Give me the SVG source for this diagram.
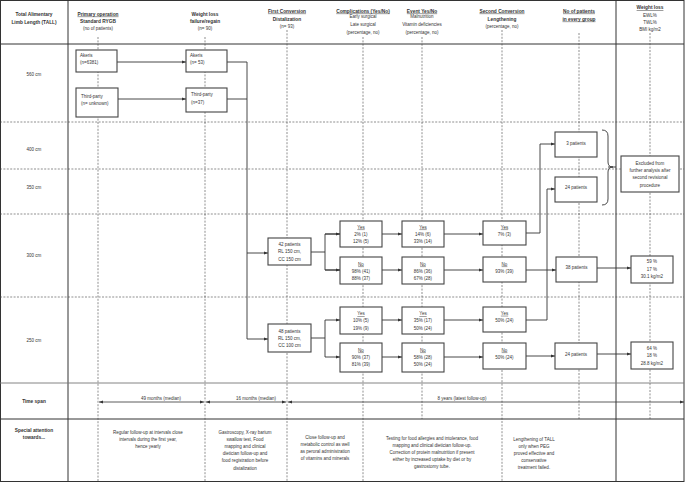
<svg xmlns="http://www.w3.org/2000/svg" width="685" height="482" viewBox="0 0 685 482">
<style>
text{font-family:"Liberation Sans",Arial,sans-serif;font-size:4.5px;fill:#333;text-anchor:middle}
.b{font-weight:bold;font-size:4.8px}
.u{text-decoration:underline}
.l{text-anchor:start}
.box{fill:#fff;stroke:#444;stroke-width:1.1}
.dash{stroke:#444;stroke-width:0.6;stroke-dasharray:2,1.4;fill:none}
.solid{stroke:#333;stroke-width:1;fill:none}
.conn{stroke:#333;stroke-width:0.9;fill:none}
.arr{marker-end:url(#ah)}
.ts{stroke:#333;stroke-width:0.8;fill:none;marker-end:url(#ah);marker-start:url(#ah)}
</style>
<defs>
<marker id="ah" markerWidth="4" markerHeight="4" refX="4" refY="2" orient="auto-start-reverse" markerUnits="userSpaceOnUse">
<path d="M0,0.6 L4,2 L0,3.4z" fill="#333"/>
</marker>
</defs>
<rect x="0" y="0" width="685" height="482" fill="#fff"/>
<g id="grid">
<rect x="0.5" y="0.5" width="683.5" height="481" class="solid"/>
<line x1="0" y1="44" x2="684" y2="44" class="solid"/>
<line x1="68" y1="0" x2="68" y2="481" class="solid"/>
<line x1="616" y1="0" x2="616" y2="481" class="solid" stroke-width="1.3"/>
<line x1="0" y1="122" x2="684" y2="122" class="dash"/>
<line x1="0" y1="169" x2="684" y2="169" class="dash"/>
<line x1="0" y1="214" x2="684" y2="214" class="dash"/>
<line x1="0" y1="297" x2="684" y2="297" class="dash"/>
<line x1="0" y1="383" x2="684" y2="383" stroke="#777" stroke-width="0.9"/>
<line x1="0" y1="419" x2="684" y2="419" class="solid"/>
<line x1="98" y1="37" x2="98" y2="481" class="dash"/>
<line x1="205" y1="37" x2="205" y2="481" class="dash"/>
<line x1="287" y1="30" x2="287" y2="481" class="dash"/>
<line x1="363" y1="37" x2="363" y2="481" class="dash"/>
<line x1="422" y1="37" x2="422" y2="419" class="dash"/>
<line x1="502" y1="30" x2="502" y2="481" class="dash"/>
<line x1="579" y1="33" x2="579" y2="419" class="dash"/>
<line x1="650" y1="33" x2="650" y2="419" class="dash"/>
</g>
<g id="headers">
<text x="34" y="15.6" class="b">Total Alimentary</text>
<text x="34" y="23.6" class="b">Limb Length (TALL)</text>
<text x="98" y="15.6" class="b u">Primary operation</text>
<text x="98" y="22.6" class="b">Standard RYGB</text>
<text x="98" y="29.6">(no of patients)</text>
<text x="205" y="15.6" class="b">Weight loss</text>
<text x="205" y="22.6" class="b">failure/regain</text>
<text x="205" y="29.6">(n= 90)</text>
<text x="287" y="12.6" class="b u">First Conversion</text>
<text x="287" y="20.6" class="b">Distalization</text>
<text x="287" y="27.6">(n= 93)</text>
<text x="363" y="12.6" class="b u">Complications (Yes/No)</text>
<text x="363" y="18">Early surgical</text>
<text x="363" y="26">Late surgical</text>
<text x="363" y="33.6">(percentage, no)</text>
<text x="422" y="12.6" class="b u">Event Yes/No</text>
<text x="422" y="18">Malnutrition</text>
<text x="422" y="26">Vitamin deficiencies</text>
<text x="422" y="33.6">(percentage, no)</text>
<text x="502" y="12.6" class="b u">Second Conversion</text>
<text x="502" y="20.6" class="b">Lengthening</text>
<text x="502" y="27.6">(percentage, no)</text>
<text x="579" y="12.6" class="b u">No of patients</text>
<text x="579" y="20.6" class="b u">in every group</text>
<text x="650" y="9.2" class="b u">Weight loss</text>
<text x="650" y="17.3">EWL%</text>
<text x="650" y="23.8">TWL%</text>
<text x="650" y="30.8">BMI kg/m2</text>
</g>
<g id="row-labels">
<text x="34" y="75.6">560 cm</text>
<text x="34" y="150.6">400 cm</text>
<text x="34" y="188.6">350 cm</text>
<text x="34" y="256.6">300 cm</text>
<text x="34" y="341.6">250 cm</text>
<text x="34" y="402.6" class="b">Time span</text>
<text x="34" y="431.6" class="b">Special attention</text>
<text x="34" y="438.8" class="b">towards...</text>
</g>
<g id="connectors">
<line x1="117" y1="62" x2="186" y2="62" class="conn arr"/>
<line x1="118" y1="99" x2="186" y2="99" class="conn arr"/>
<polyline points="227,62 247,62 247,339 268,339" class="conn arr"/>
<polyline points="227,99 247,99" class="conn"/>
<polyline points="247,253 268,253" class="conn arr"/>
<polyline points="311,252 325,252" class="conn"/>
<polyline points="340,234 325,234 325,270 340,270" class="conn"/>
<line x1="325" y1="234" x2="340" y2="234" class="conn arr"/>
<line x1="325" y1="270" x2="340" y2="270" class="conn arr"/>
<polyline points="311,338 325,338" class="conn"/>
<polyline points="325,320 325,357" class="conn"/>
<line x1="325" y1="320" x2="340" y2="320" class="conn arr"/>
<line x1="325" y1="357" x2="340" y2="357" class="conn arr"/>
<line x1="382" y1="234" x2="402" y2="234" class="conn arr"/>
<line x1="382" y1="270" x2="402" y2="270" class="conn arr"/>
<line x1="382" y1="320" x2="402" y2="320" class="conn arr"/>
<line x1="382" y1="357" x2="402" y2="357" class="conn arr"/>
<line x1="444" y1="234" x2="483" y2="234" class="conn arr"/>
<line x1="444" y1="270" x2="483" y2="270" class="conn arr"/>
<line x1="444" y1="320" x2="483" y2="320" class="conn arr"/>
<line x1="444" y1="357" x2="483" y2="357" class="conn arr"/>
<polyline points="526,233 540,233 540,144 555,144" class="conn arr"/>
<polyline points="526,320 547,320 547,189 555,189" class="conn arr"/>
<line x1="526" y1="270" x2="556" y2="270" class="conn arr"/>
<line x1="526" y1="356" x2="555" y2="356" class="conn arr"/>
<line x1="597" y1="268" x2="631" y2="268" class="conn arr"/>
<line x1="597" y1="354" x2="631" y2="354" class="conn arr"/>
<path d="M602,130 Q608,130 608,136 L608,162 Q608,167 613,167 Q608,167 608,172 L608,199 Q608,205 602,205" class="conn"/>
<line x1="608" y1="167" x2="616" y2="167" class="conn"/>
<line x1="99" y1="402" x2="204" y2="402" class="ts"/>
<line x1="206" y1="402" x2="286" y2="402" class="ts"/>
<line x1="288" y1="402" x2="684" y2="402" class="ts"/>
</g>
<g id="timespan-labels">
<text x="161" y="400.3">49 months (median)</text>
<text x="256" y="400.3">16 months (median)</text>
<text x="462" y="400.3">8 years (latest follow-up)</text>
</g>
<g id="akeris-primary"><rect x="76" y="50" width="41" height="22" class="box"/><text x="80" y="57.3" class="l">Akeris</text><text x="80" y="64.3" class="l">(n=6381)</text></g>
<g id="third-primary"><rect x="76" y="88" width="42" height="29" class="box"/><text x="81" y="98" class="l">Third-party</text><text x="81" y="105.3" class="l">(n= unknown)</text></g>
<g id="akeris-failure"><rect x="186" y="50" width="41" height="22" class="box"/><text x="190" y="57.3" class="l">Akeris</text><text x="190" y="64.3" class="l">(n= 53)</text></g>
<g id="third-failure"><rect x="186" y="88" width="41" height="24" class="box"/><text x="191" y="96.3" class="l">Third-party</text><text x="191" y="103.6" class="l">(n=37)</text></g>
<g id="conv-42"><rect x="268" y="238" width="43" height="27" class="box"/><text x="289.5" y="246.3">42 patients</text><text x="289.5" y="253.3">RL 150 cm,</text><text x="289.5" y="260.6">CC 150 cm</text></g>
<g id="conv-48"><rect x="268" y="324" width="43" height="28" class="box"/><text x="289.5" y="332.6">48 patients</text><text x="289.5" y="340">RL 150 cm,</text><text x="289.5" y="347.3">CC 100 cm</text></g>
<g id="comp-yes-300"><rect x="340" y="221" width="42" height="26" class="box"/><text x="361" y="228.6" class="u">Yes</text><text x="361" y="235.6">2% (1)</text><text x="361" y="242.6">12% (5)</text></g>
<g id="comp-no-300"><rect x="340" y="257" width="42" height="27" class="box"/><text x="361" y="265.6" class="u">No</text><text x="361" y="272.6">98% (41)</text><text x="361" y="279.6">88% (37)</text></g>
<g id="comp-yes-250"><rect x="340" y="307" width="42" height="27" class="box"/><text x="361" y="315.4" class="u">Yes</text><text x="361" y="322.4">10% (5)</text><text x="361" y="329.6">19% (9)</text></g>
<g id="comp-no-250"><rect x="340" y="343" width="42" height="29" class="box"/><text x="361" y="351.6" class="u">No</text><text x="361" y="358.8">90% (37)</text><text x="361" y="366">81% (39)</text></g>
<g id="event-yes-300"><rect x="402" y="221" width="42" height="26" class="box"/><text x="423" y="228.6" class="u">Yes</text><text x="423" y="235.6">14% (6)</text><text x="423" y="242.6">33% (14)</text></g>
<g id="event-no-300"><rect x="402" y="257" width="42" height="27" class="box"/><text x="423" y="265.6" class="u">No</text><text x="423" y="272.6">86% (36)</text><text x="423" y="279.6">67% (28)</text></g>
<g id="event-yes-250"><rect x="402" y="307" width="42" height="27" class="box"/><text x="423" y="315.4" class="u">Yes</text><text x="423" y="322.4">35% (17)</text><text x="423" y="329.6">50% (24)</text></g>
<g id="event-no-250"><rect x="402" y="343" width="42" height="29" class="box"/><text x="423" y="351.6" class="u">No</text><text x="423" y="358.8">58% (28)</text><text x="423" y="366">50% (24)</text></g>
<g id="second-yes-300"><rect x="483" y="221" width="43" height="24" class="box"/><text x="504.5" y="228.6" class="u">Yes</text><text x="504.5" y="235.6">7% (3)</text></g>
<g id="second-no-300"><rect x="483" y="257" width="43" height="25" class="box"/><text x="504.5" y="265.6" class="u">No</text><text x="504.5" y="272.6">93% (39)</text></g>
<g id="second-yes-250"><rect x="483" y="307" width="43" height="25" class="box"/><text x="504.5" y="314.8" class="u">Yes</text><text x="504.5" y="322.3">50% (24)</text></g>
<g id="second-no-250"><rect x="483" y="343" width="43" height="26" class="box"/><text x="504.5" y="351.6" class="u">No</text><text x="504.5" y="358.9">50% (24)</text></g>
<g id="n-3"><rect x="555" y="132" width="42" height="25" class="box"/><text x="576" y="145.3">3 patients</text></g>
<g id="n-24-upper"><rect x="555" y="177" width="42" height="25" class="box"/><text x="576" y="189">24 patients</text></g>
<g id="n-38"><rect x="556" y="257" width="41" height="25" class="box"/><text x="576.5" y="269.3">38 patients</text></g>
<g id="n-24-lower"><rect x="555" y="343" width="42" height="26" class="box"/><text x="576" y="355.6">24 patients</text></g>
<g id="excluded"><rect x="621" y="156" width="58" height="36" class="box"/><text x="650" y="165">Excluded from</text><text x="650" y="172.3">further analysis after</text><text x="650" y="179.3">second revisional</text><text x="650" y="186.6">procedure</text></g>
<g id="result-300"><rect x="631" y="256" width="42" height="27" class="box"/><text x="652" y="263.3">59 %</text><text x="652" y="270.6">17 %</text><text x="652" y="277.8">30.1 kg/m2</text></g>
<g id="result-250"><rect x="631" y="342" width="42" height="27" class="box"/><text x="652" y="350.3">64 %</text><text x="652" y="357.3">18 %</text><text x="652" y="364.6">28.8 kg/m2</text></g>
<g id="special-attention">
<text x="148" y="433.6">Regular follow-up at intervals close</text>
<text x="148" y="440.8">intervals during the first year,</text>
<text x="148" y="448">hence yearly</text>
<text x="245" y="433.6">Gastroscopy, X-ray barium</text>
<text x="245" y="440.8">swallow test, Food</text>
<text x="245" y="448">mapping and clinical</text>
<text x="245" y="455.2">dietician follow-up and</text>
<text x="245" y="462.4">food registration before</text>
<text x="245" y="469.6">distalization</text>
<text x="325" y="438.8">Close follow-up and</text>
<text x="325" y="446">metabolic control as well</text>
<text x="325" y="453.2">as peroral administration</text>
<text x="325" y="460.4">of vitamins and minerals</text>
<text x="432" y="439.6">Testing for food allergies and intolerance, food</text>
<text x="432" y="446.8">mapping and clinical dietician follow-up.</text>
<text x="432" y="454">Correction of protein malnutrition if present</text>
<text x="432" y="461.2">either by increased uptake by diet or by</text>
<text x="432" y="468.4">gastrostomy tube.</text>
<text x="534" y="440.6">Lengthening of TALL</text>
<text x="534" y="447.8">only when PEG</text>
<text x="534" y="455">proved effective and</text>
<text x="534" y="462.2">conservative</text>
<text x="534" y="469.4">treatment failed.</text>
</g>
</svg>
